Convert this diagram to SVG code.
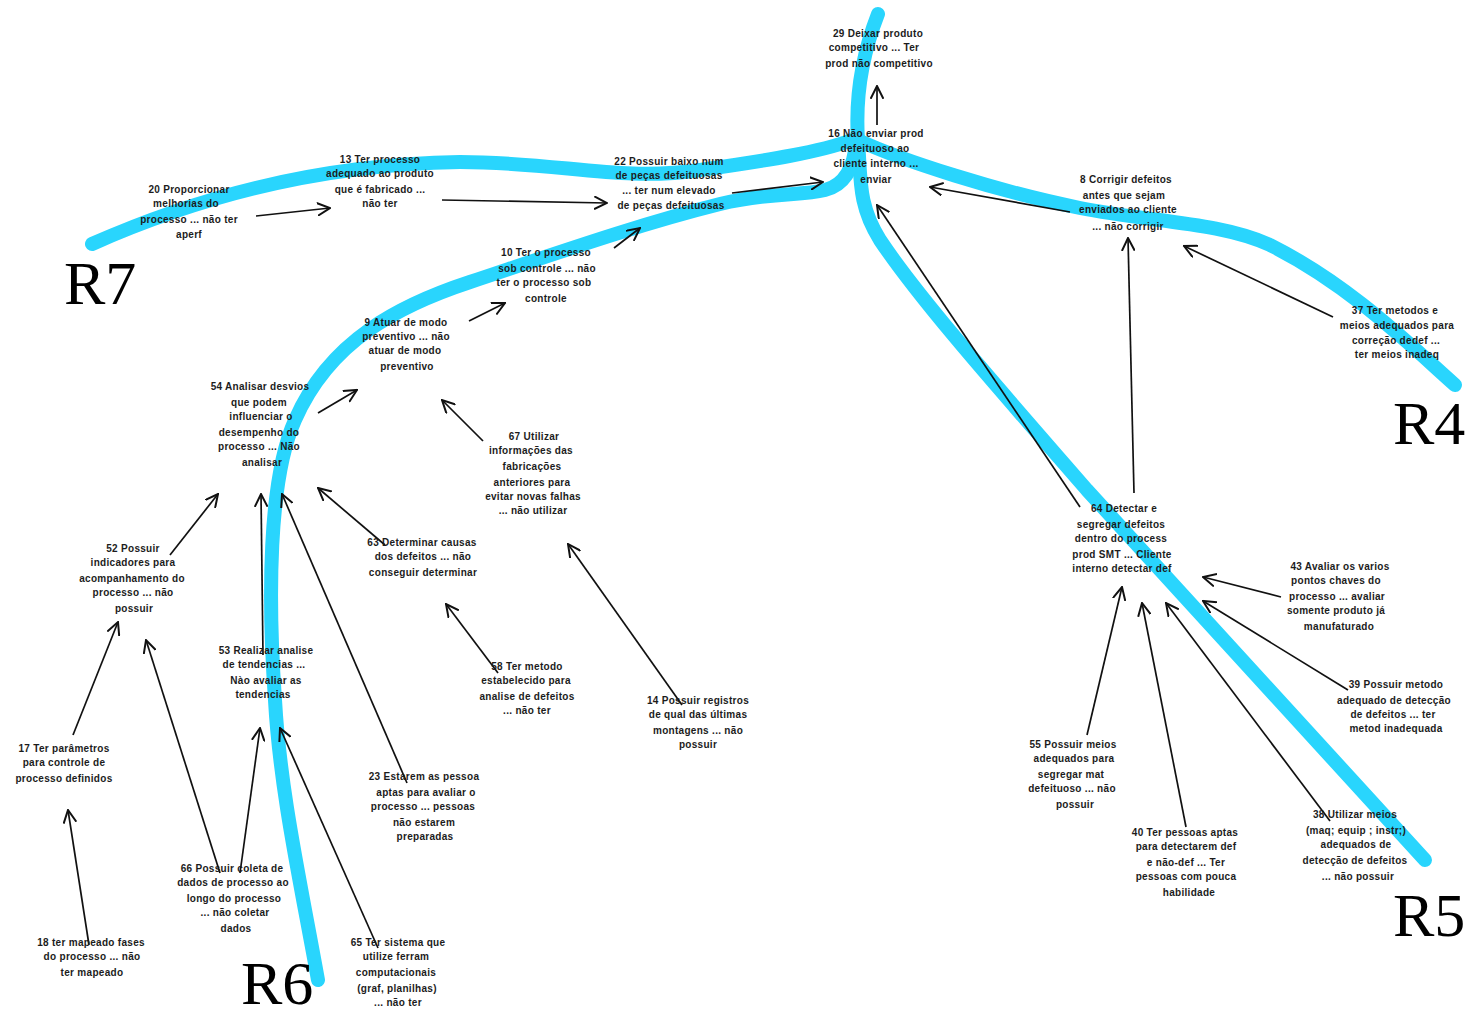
<svg xmlns="http://www.w3.org/2000/svg" width="1470" height="1014" viewBox="0 0 1470 1014">
  <style>
    .branch { fill: none; stroke: #29d5fd; stroke-width: 14; stroke-linecap: round; stroke-linejoin: round; }
    .link { fill: none; stroke: #111; stroke-width: 1.7; marker-end: url(#open); }
    .node text { font-family: "Liberation Sans", Arial, sans-serif; font-size: 10px; font-weight: bold; fill: #1c1c1c; text-anchor: middle; letter-spacing: 0.3px; }
    .tag { font-family: "Liberation Serif", "Times New Roman", serif; font-size: 62px; fill: #000; }
  </style>
  <defs>
    <marker id="open" markerUnits="userSpaceOnUse" markerWidth="14" markerHeight="14" viewBox="0 0 12 12" refX="11" refY="6" orient="auto">
      <path d="M0,0.5 L11,6 L0,11.5" fill="none" stroke="#111" stroke-width="1.7"/>
    </marker>
  </defs>

  <rect width="1470" height="1014" fill="#fff"/>

  <!-- thick loop branches -->
  <g id="branches">
    <path class="branch" d="M92,244 C200,196 320,164 460,162 C560,162 620,182 700,170 C770,160 820,152 852,140"/>
    <path class="branch" d="M878,14 C862,55 855,95 858,140 C861,180 858,205 880,240 C920,300 1000,390 1087,490 L1425,860"/>
    <path class="branch" d="M858,140 C900,160 1000,192 1080,208 C1150,222 1220,222 1270,245 C1350,285 1410,345 1455,385"/>
    <path class="branch" d="M318,980 C300,880 280,790 275,700 C268,600 268,480 295,420 C330,340 400,305 470,282 C560,252 640,224 720,204 C770,192 800,196 825,190 C845,185 854,168 856,142"/>
  </g>

  <!-- arrows between nodes -->
  <g id="connectors">
    <line class="link" x1="877" y1="125" x2="877" y2="86"/>
    <line class="link" x1="256" y1="216" x2="330" y2="208"/>
    <line class="link" x1="442" y1="200" x2="607" y2="203"/>
    <line class="link" x1="732" y1="193" x2="823" y2="182"/>
    <line class="link" x1="614" y1="248" x2="640" y2="228"/>
    <line class="link" x1="469" y1="321" x2="505" y2="303"/>
    <line class="link" x1="318" y1="413" x2="357" y2="390"/>
    <line class="link" x1="483" y1="441" x2="442" y2="400"/>
    <line class="link" x1="1070" y1="212" x2="930" y2="187"/>
    <line class="link" x1="1080" y1="507" x2="877" y2="205"/>
    <line class="link" x1="1134" y1="493" x2="1128" y2="238"/>
    <line class="link" x1="1333" y1="317" x2="1184" y2="246"/>
    <line class="link" x1="1281" y1="597" x2="1203" y2="577"/>
    <line class="link" x1="1348" y1="690" x2="1203" y2="601"/>
    <line class="link" x1="1087" y1="735" x2="1122" y2="587"/>
    <line class="link" x1="1186" y1="827" x2="1142" y2="603"/>
    <line class="link" x1="1330" y1="821" x2="1166" y2="603"/>
    <line class="link" x1="170" y1="555" x2="218" y2="494"/>
    <line class="link" x1="263" y1="655" x2="261" y2="494"/>
    <line class="link" x1="407" y1="783" x2="282" y2="494"/>
    <line class="link" x1="385" y1="545" x2="318" y2="488"/>
    <line class="link" x1="73" y1="735" x2="118" y2="622"/>
    <line class="link" x1="220" y1="873" x2="146" y2="640"/>
    <line class="link" x1="240" y1="873" x2="260" y2="728"/>
    <line class="link" x1="378" y1="948" x2="280" y2="728"/>
    <line class="link" x1="89" y1="945" x2="68" y2="810"/>
    <line class="link" x1="498" y1="673" x2="446" y2="604"/>
    <line class="link" x1="682" y1="705" x2="568" y2="544"/>
  </g>

  <g id="n29" class="node">
    <text x="878" y="37">29 Deixar produto</text>
    <text x="874" y="51">competitivo ... Ter</text>
    <text x="879" y="67">prod não competitivo</text>
  </g>
  <g id="n16" class="node">
    <text x="876" y="137">16 Não enviar prod</text>
    <text x="875" y="152">defeituoso ao</text>
    <text x="876" y="167">cliente interno ...</text>
    <text x="876" y="183">enviar</text>
  </g>
  <g id="n13" class="node">
    <text x="380" y="163">13 Ter processo</text>
    <text x="380" y="177">adequado ao produto</text>
    <text x="380" y="193">que é fabricado ...</text>
    <text x="380" y="207">não ter</text>
  </g>
  <g id="n20" class="node">
    <text x="189" y="193">20 Proporcionar</text>
    <text x="186" y="207">melhorias do</text>
    <text x="189" y="223">processo ... não ter</text>
    <text x="189" y="238">aperf</text>
  </g>
  <g id="n22" class="node">
    <text x="669" y="165">22 Possuir baixo num</text>
    <text x="669" y="179">de peças defeituosas</text>
    <text x="669" y="194">... ter num elevado</text>
    <text x="671" y="209">de peças defeituosas</text>
  </g>
  <g id="n10" class="node">
    <text x="546" y="256">10 Ter o processo</text>
    <text x="547" y="272">sob controle ... não</text>
    <text x="544" y="286">ter o processo sob</text>
    <text x="546" y="302">controle</text>
  </g>
  <g id="n9" class="node">
    <text x="406" y="326">9 Atuar de modo</text>
    <text x="406" y="340">preventivo ... não</text>
    <text x="405" y="354">atuar de modo</text>
    <text x="407" y="370">preventivo</text>
  </g>
  <g id="n54" class="node">
    <text x="260" y="390">54 Analisar desvios</text>
    <text x="259" y="406">que podem</text>
    <text x="261" y="420">influenciar o</text>
    <text x="259" y="436">desempenho do</text>
    <text x="259" y="450">processo ... Não</text>
    <text x="262" y="466">analisar</text>
  </g>
  <g id="n67" class="node">
    <text x="534" y="440">67 Utilizar</text>
    <text x="531" y="454">informações das</text>
    <text x="532" y="470">fabricações</text>
    <text x="532" y="486">anteriores para</text>
    <text x="533" y="500">evitar novas falhas</text>
    <text x="533" y="514">... não utilizar</text>
  </g>
  <g id="n8" class="node">
    <text x="1126" y="183">8 Corrigir defeitos</text>
    <text x="1124" y="199">antes que sejam</text>
    <text x="1128" y="213">enviados ao cliente</text>
    <text x="1128" y="230">... não corrigir</text>
  </g>
  <g id="n37" class="node">
    <text x="1395" y="314">37 Ter metodos e</text>
    <text x="1397" y="329">meios adequados para</text>
    <text x="1396" y="344">correção dedef ...</text>
    <text x="1397" y="358">ter meios inadeq</text>
  </g>
  <g id="n64" class="node">
    <text x="1124" y="512">64 Detectar e</text>
    <text x="1121" y="528">segregar defeitos</text>
    <text x="1121" y="542">dentro do process</text>
    <text x="1122" y="558">prod SMT ... Cliente</text>
    <text x="1122" y="572">interno detectar def</text>
  </g>
  <g id="n43" class="node">
    <text x="1340" y="570">43 Avaliar os varios</text>
    <text x="1336" y="584">pontos chaves do</text>
    <text x="1337" y="600">processo ... avaliar</text>
    <text x="1336" y="614">somente produto já</text>
    <text x="1339" y="630">manufaturado</text>
  </g>
  <g id="n39" class="node">
    <text x="1396" y="688">39 Possuir metodo</text>
    <text x="1394" y="704">adequado de detecção</text>
    <text x="1393" y="718">de defeitos ... ter</text>
    <text x="1396" y="732">metod inadequada</text>
  </g>
  <g id="n55" class="node">
    <text x="1073" y="748">55 Possuir meios</text>
    <text x="1074" y="762">adequados para</text>
    <text x="1071" y="778">segregar mat</text>
    <text x="1072" y="792">defeituoso ... não</text>
    <text x="1075" y="808">possuir</text>
  </g>
  <g id="n40" class="node">
    <text x="1185" y="836">40 Ter pessoas aptas</text>
    <text x="1186" y="850">para detectarem def</text>
    <text x="1186" y="866">e não-def ... Ter</text>
    <text x="1186" y="880">pessoas com pouca</text>
    <text x="1189" y="896">habilidade</text>
  </g>
  <g id="n38" class="node">
    <text x="1355" y="818">38 Utilizar meios</text>
    <text x="1356" y="834">(maq; equip ; instr;)</text>
    <text x="1356" y="848">adequados de</text>
    <text x="1355" y="864">detecção de defeitos</text>
    <text x="1358" y="880">... não possuir</text>
  </g>
  <g id="n52" class="node">
    <text x="133" y="552">52 Possuir</text>
    <text x="133" y="566">indicadores para</text>
    <text x="132" y="582">acompanhamento do</text>
    <text x="133" y="596">processo ... não</text>
    <text x="134" y="612">possuir</text>
  </g>
  <g id="n53" class="node">
    <text x="266" y="654">53 Realizar analise</text>
    <text x="264" y="668">de tendencias ...</text>
    <text x="266" y="684">Nào avaliar as</text>
    <text x="263" y="698">tendencias</text>
  </g>
  <g id="n17" class="node">
    <text x="64" y="752">17 Ter parâmetros</text>
    <text x="64" y="766">para controle de</text>
    <text x="64" y="782">processo definidos</text>
  </g>
  <g id="n18" class="node">
    <text x="91" y="946">18 ter mapeado fases</text>
    <text x="92" y="960">do processo ... não</text>
    <text x="92" y="976">ter mapeado</text>
  </g>
  <g id="n66" class="node">
    <text x="232" y="872">66 Possuir coleta de</text>
    <text x="233" y="886">dados de processo ao</text>
    <text x="234" y="902">longo do processo</text>
    <text x="235" y="916">... não coletar</text>
    <text x="236" y="932">dados</text>
  </g>
  <g id="n65" class="node">
    <text x="398" y="946">65 Ter sistema que</text>
    <text x="396" y="960">utilize ferram</text>
    <text x="396" y="976">computacionais</text>
    <text x="397" y="992">(graf, planilhas)</text>
    <text x="398" y="1006">... não ter</text>
  </g>
  <g id="n23" class="node">
    <text x="424" y="780">23 Estarem as pessoa</text>
    <text x="426" y="796">aptas para avaliar o</text>
    <text x="423" y="810">processo ... pessoas</text>
    <text x="424" y="826">não estarem</text>
    <text x="425" y="840">preparadas</text>
  </g>
  <g id="n63" class="node">
    <text x="422" y="546">63 Determinar causas</text>
    <text x="423" y="560">dos defeitos ... não</text>
    <text x="423" y="576">conseguir determinar</text>
  </g>
  <g id="n58" class="node">
    <text x="527" y="670">58 Ter metodo</text>
    <text x="526" y="684">estabelecido para</text>
    <text x="527" y="700">analise de defeitos</text>
    <text x="527" y="714">... não ter</text>
  </g>
  <g id="n14" class="node">
    <text x="698" y="704">14 Possuir registros</text>
    <text x="698" y="718">de qual das últimas</text>
    <text x="698" y="734">montagens ... não</text>
    <text x="698" y="748">possuir</text>
  </g>

  <!-- loop names -->
  <g id="loop-tags">
    <text class="tag" x="64" y="304">R7</text>
    <text class="tag" x="1393" y="444">R4</text>
    <text class="tag" x="1393" y="936">R5</text>
    <text class="tag" x="241" y="1004">R6</text>
  </g>
</svg>
